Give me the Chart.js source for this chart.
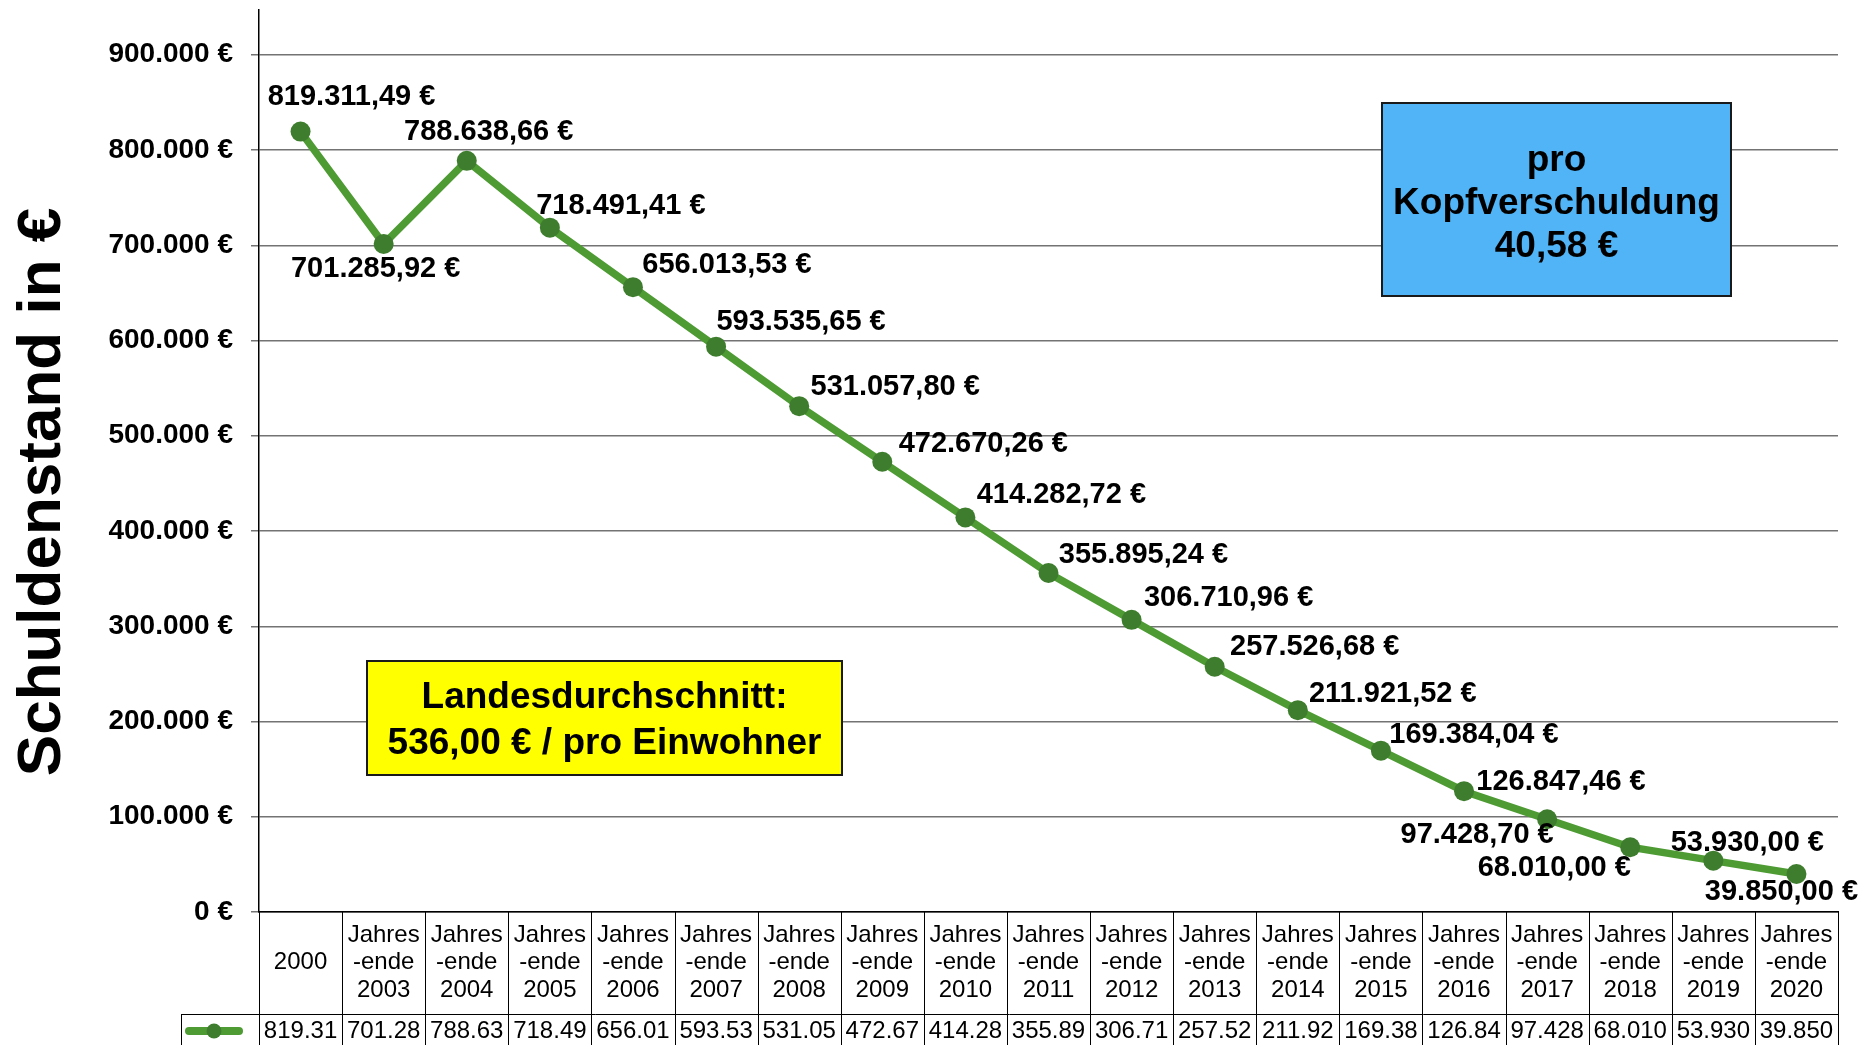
<!DOCTYPE html>
<html lang="de">
<head>
<meta charset="utf-8">
<title>Schuldenstand</title>
<script src="https://cdn.jsdelivr.net/npm/chart.js@4.4.1/dist/chart.umd.min.js"></script>
<style>
  html, body { margin: 0; padding: 0; background: #fff; }
  #wrap { width: 1875px; height: 1045px; }
</style>
</head>
<body>
<div id="wrap"><canvas id="chart" width="1875" height="1045"></canvas></div>
<script>
// Jahre (Kategorien)
const years = ["2000", "2003", "2004", "2005", "2006", "2007", "2008", "2009", "2010", "2011",
               "2012", "2013", "2014", "2015", "2016", "2017", "2018", "2019", "2020"];

// Schuldenstand in €
const debt = [819311.49, 701285.92, 788638.66, 718491.41, 656013.53, 593535.65, 531057.80,
              472670.26, 414282.72, 355895.24, 306710.96, 257526.68, 211921.52, 169384.04,
              126847.46, 97428.70, 68010.00, 53930.00, 39850.00];

// Werte wie in der Datentabelle (abgeschnitten)
const tableValues = ["819.31", "701.28", "788.63", "718.49", "656.01", "593.53", "531.05",
                     "472.67", "414.28", "355.89", "306.71", "257.52", "211.92", "169.38",
                     "126.84", "97.428", "68.010", "53.930", "39.850"];

// Y-Achse
const yMin = 0;
const yMax = 947000;
const yTicks = [0, 100000, 200000, 300000, 400000, 500000, 600000, 700000, 800000, 900000];

// Beschriftungen der Kästen
const boxAvg = ["Landesdurchschnitt:", "536,00 € / pro Einwohner"];
const boxHead = ["pro", "Kopfverschuldung", "40,58 €"];

// Lage der Datenbeschriftungen relativ zum Punkt (dx, dy)
const labelOffsets = [[51, -35], [-8, 25], [22, -29], [71, -22], [94, -22], [85, -25], [96, -19],
                      [101, -18], [96, -22], [95, -18], [97, -22], [100, -20], [95, -16], [93, -16],
                      [97, -9], [-70, 16], [-76, 21], [34, -18], [-15, 18]];

const FONT = "'Liberation Sans', Arial, Helvetica, sans-serif";
const GREEN = "#4e9b34";
const GREEN_DARK = "#3e7d2d";

/** 819311.49 -> "819.311,49 €" */
function euro(v, dec) {
  const parts = Number(v).toFixed(dec).split(".");
  const int = parts[0].replace(/\B(?=(\d{3})+(?!\d))/g, ".");
  return int + (parts[1] ? "," + parts[1] : "") + " €";
}

const headerLabels = years.map(y => y === "2000" ? y : ["Jahres", "-ende", y]);

// Datenbeschriftungen an den Punkten
const pointLabels = {
  id: "pointLabels",
  afterDatasetsDraw(chart) {
    const ctx = chart.ctx;
    const meta = chart.getDatasetMeta(0);
    ctx.save();
    ctx.font = "bold 29px " + FONT;
    ctx.fillStyle = "#000";
    ctx.textAlign = "center";
    ctx.textBaseline = "middle";
    meta.data.forEach((pt, i) => {
      const off = labelOffsets[i] || [0, -20];
      ctx.fillText(euro(debt[i], 2), pt.x + off[0], pt.y + off[1]);
    });
    ctx.restore();
  }
};

// Datentabelle unter der X-Achse
const dataTable = {
  id: "dataTable",
  afterDraw(chart) {
    const ctx = chart.ctx;
    const xs = chart.scales.x;
    const area = chart.chartArea;
    const H = chart.height;
    const rowY = area.bottom + 102;
    const legendLeft = 181;
    const n = years.length;
    ctx.save();
    ctx.strokeStyle = "#000";
    ctx.lineWidth = 1;

    // senkrechte Linien
    const bounds = [];
    for (let i = 0; i <= n; i++) {
      let x;
      if (i === 0) x = area.left;
      else if (i === n) x = area.right;
      else x = (xs.getPixelForTick(i - 1) + xs.getPixelForTick(i)) / 2;
      bounds.push(Math.round(x) + 0.5);
    }
    ctx.beginPath();
    bounds.forEach(x => { ctx.moveTo(x, area.bottom); ctx.lineTo(x, H); });
    ctx.moveTo(legendLeft + 0.5, rowY); ctx.lineTo(legendLeft + 0.5, H);
    // waagrechte Linie zwischen Kopf und Werten
    ctx.moveTo(legendLeft, Math.round(rowY) + 0.5);
    ctx.lineTo(area.right, Math.round(rowY) + 0.5);
    ctx.stroke();

    // Werte
    ctx.font = "24px " + FONT;
    ctx.fillStyle = "#000";
    ctx.textAlign = "center";
    ctx.textBaseline = "middle";
    tableValues.forEach((t, i) => {
      ctx.fillText(t, xs.getPixelForTick(i), rowY + 17);
    });

    // Legendensymbol
    const ly = rowY + 17;
    ctx.strokeStyle = GREEN;
    ctx.lineWidth = 8;
    ctx.lineCap = "round";
    ctx.beginPath();
    ctx.moveTo(189, ly); ctx.lineTo(239, ly);
    ctx.stroke();
    ctx.fillStyle = GREEN_DARK;
    ctx.beginPath();
    ctx.arc(214, ly, 7.5, 0, Math.PI * 2);
    ctx.fill();
    ctx.restore();
  }
};

// Achsentitel und Textkästen
const extras = {
  id: "extras",
  afterDraw(chart) {
    const ctx = chart.ctx;
    ctx.save();
    // Y-Titel
    ctx.translate(60, 492);
    ctx.rotate(-Math.PI / 2);
    ctx.font = "bold 62px " + FONT;
    ctx.fillStyle = "#000";
    ctx.textAlign = "center";
    ctx.textBaseline = "alphabetic";
    ctx.fillText("Schuldenstand in €", 0, 0);
    ctx.restore();

    function box(x1, y1, x2, y2, fill, lines, lineYs) {
      ctx.save();
      ctx.fillStyle = fill;
      ctx.fillRect(x1, y1, x2 - x1, y2 - y1);
      ctx.strokeStyle = "#1a1a1a";
      ctx.lineWidth = 2;
      ctx.strokeRect(x1, y1, x2 - x1, y2 - y1);
      ctx.font = "bold 37px " + FONT;
      ctx.fillStyle = "#000";
      ctx.textAlign = "center";
      ctx.textBaseline = "middle";
      lines.forEach((t, i) => ctx.fillText(t, (x1 + x2) / 2, lineYs[i]));
      ctx.restore();
    }
    box(367, 661, 842, 775, "#ffff00", boxAvg, [698, 744]);
    box(1382, 103, 1731, 296, "#50b4f6", boxHead, [161, 204, 247]);
  }
};

new Chart(document.getElementById("chart"), {
  type: "line",
  data: {
    labels: headerLabels,
    datasets: [{
      label: "Schuldenstand",
      data: debt,
      borderColor: GREEN,
      borderWidth: 7.5,
      backgroundColor: GREEN_DARK,
      pointBackgroundColor: GREEN_DARK,
      pointBorderWidth: 0,
      pointRadius: 10,
      tension: 0,
      fill: false
    }]
  },
  options: {
    responsive: false,
    animation: false,
    layout: { padding: { top: 5, right: 37, left: 0, bottom: 0 } },
    plugins: {
      legend: { display: false },
      tooltip: { enabled: false },
      title: { display: false }
    },
    scales: {
      x: {
        type: "category",
        offset: true,
        grid: { display: false, drawTicks: false },
        border: { display: true, color: "#000", width: 1.5 },
        ticks: {
          autoSkip: false,
          maxRotation: 0,
          minRotation: 0,
          padding: 23,
          crossAlign: "center",
          color: "#000",
          font: { family: FONT, size: 24, lineHeight: 1.15 }
        },
        afterFit(scale) { scale.height = 133; }
      },
      y: {
        min: yMin,
        max: yMax,
        ticks: {
          padding: 18,
          color: "#000",
          font: { family: FONT, size: 28, weight: "bold" },
          callback: v => euro(v, 0)
        },
        afterBuildTicks(scale) {
          scale.ticks = yTicks.map(v => ({ value: v }));
        },
        grid: {
          color: "#737373",
          lineWidth: 1.5,
          tickLength: 8,
          tickColor: "#737373"
        },
        border: { display: true, color: "#000", width: 1.5 },
        afterFit(scale) {
          scale.width = 259;
          scale.paddingTop = 0;
          scale.paddingBottom = 0;
        }
      }
    }
  },
  plugins: [pointLabels, dataTable, extras]
});
</script>
</body>
</html>
